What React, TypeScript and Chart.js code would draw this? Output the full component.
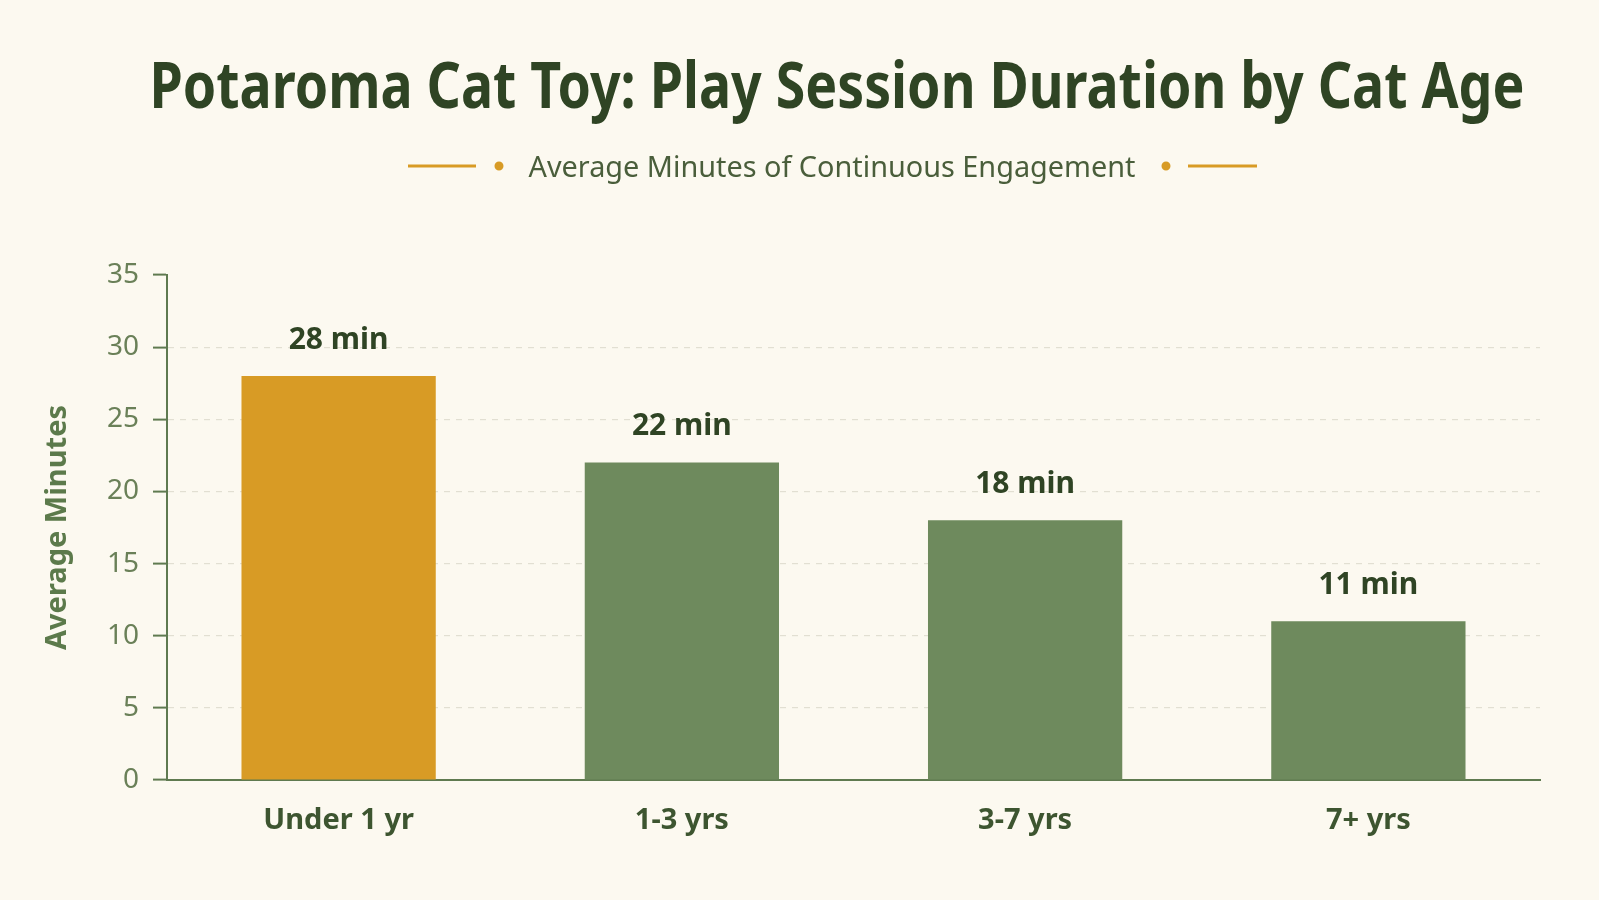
import React, { useEffect, useRef } from "react";
import { Chart, registerables } from "chart.js";

Chart.register(...registerables);

// Chart content
const TITLE = "Potaroma Cat Toy: Play Session Duration by Cat Age";
const SUBTITLE = "Average Minutes of Continuous Engagement";
const Y_AXIS_TITLE = "Average Minutes";

const ageGroups = ["Under 1 yr", "1-3 yrs", "3-7 yrs", "7+ yrs"];
const avgMinutes = [28, 22, 18, 11];
const valueLabels = ["28 min", "22 min", "18 min", "11 min"];

const Y_MIN = 0;
const Y_MAX = 35;
const Y_STEP = 5;

// Palette
const BG = "#fcf9f0";
const GOLD = "#d89b25";
const SAGE = "#6e8a5d";
const DARK_GREEN = "#2f4424";
const MID_GREEN = "#5c7a4b";
const AXIS_GREEN = "#5f7a50";
const TICK_TEXT = "#6a8058";
const GRID = "#e2dfd2";
const FONT = '"Noto Sans", "Open Sans", sans-serif';

const barColors = ageGroups.map((_, i) => (i === 0 ? GOLD : SAGE));

// Title, subtitle and its gold ornaments
const headerPlugin = {
  id: "header",
  afterDraw(chart: any) {
    const ctx = chart.ctx as CanvasRenderingContext2D;
    ctx.save();
    ctx.fillStyle = DARK_GREEN;
    ctx.textAlign = "center";
    ctx.textBaseline = "alphabetic";
    ctx.font = `bold 65px ${FONT}`;
    const tw = ctx.measureText(TITLE).width;
    const tsx = Math.min(1, 1375 / tw);
    ctx.translate(837, 108);
    ctx.scale(tsx, 1);
    ctx.fillText(TITLE, 0, 0);
    ctx.restore();

    ctx.save();
    ctx.fillStyle = "#4a5e3b";
    ctx.textAlign = "center";
    ctx.textBaseline = "alphabetic";
    ctx.font = `29px ${FONT}`;
    const sw = ctx.measureText(SUBTITLE).width;
    const ssx = Math.min(1, 607 / sw);
    ctx.translate(832, 177);
    ctx.scale(ssx, 1);
    ctx.fillText(SUBTITLE, 0, 0);
    ctx.restore();

    ctx.save();
    ctx.strokeStyle = GOLD;
    ctx.fillStyle = GOLD;
    ctx.lineWidth = 3;
    const y = 166;
    ctx.beginPath();
    ctx.moveTo(408, y);
    ctx.lineTo(476, y);
    ctx.moveTo(1188, y);
    ctx.lineTo(1257, y);
    ctx.stroke();
    ctx.beginPath();
    ctx.arc(499, y, 4.5, 0, Math.PI * 2);
    ctx.arc(1166, y, 4.5, 0, Math.PI * 2);
    ctx.fill();
    ctx.restore();
  },
};

// Value labels above each bar
const valueLabelPlugin = {
  id: "valueLabels",
  afterDatasetsDraw(chart: any) {
    const ctx = chart.ctx as CanvasRenderingContext2D;
    const meta = chart.getDatasetMeta(0);
    ctx.save();
    ctx.fillStyle = DARK_GREEN;
    ctx.font = `bold 30px ${FONT}`;
    ctx.textAlign = "center";
    ctx.textBaseline = "middle";
    meta.data.forEach((bar: any, i: number) => {
      ctx.fillText(valueLabels[i], bar.x, bar.y - 36);
    });
    ctx.restore();
  },
};

export default function App() {
  const canvasRef = useRef<HTMLCanvasElement | null>(null);

  useEffect(() => {
    document.body.style.margin = "0";
    document.body.style.background = BG;
    const canvas = canvasRef.current;
    if (!canvas) return;
    const chart = new Chart(canvas, {
      type: "bar",
      data: {
        labels: ageGroups,
        datasets: [
          {
            data: avgMinutes,
            backgroundColor: barColors,
            borderWidth: 0,
            barPercentage: 0.566,
            categoryPercentage: 1,
          },
        ],
      },
      options: {
        responsive: false,
        animation: false,
        devicePixelRatio: 1,
        layout: { padding: { top: 275, right: 59, bottom: 0, left: 40 } },
        plugins: {
          legend: { display: false },
          title: { display: false },
          tooltip: { enabled: false },
        },
        scales: {
          x: {
            afterFit(scale: any) {
              scale.height = 120;
            },
            grid: { display: false, drawTicks: false },
            border: { display: true, color: AXIS_GREEN, width: 2 },
            ticks: {
              color: "#3d5530",
              padding: 23,
              font: { family: FONT, size: 29, weight: "bold" },
            },
          },
          y: {
            min: Y_MIN,
            max: Y_MAX,
            afterFit(scale: any) {
              scale.width = 127;
            },
            ticks: {
              stepSize: Y_STEP,
              color: TICK_TEXT,
              padding: 14,
              font: { family: FONT, size: 28 },
            },
            grid: {
              // no dashed line along the top tick
              color: (c: any) =>
                c.tick && c.tick.value === Y_MAX ? "rgba(0,0,0,0)" : GRID,
              lineWidth: 1.2,
              drawTicks: true,
              tickLength: 14,
              tickColor: AXIS_GREEN,
              tickWidth: 2,
              tickBorderDash: [],
            } as any,
            border: { display: true, color: AXIS_GREEN, width: 2, dash: [6, 6] },
            title: {
              display: true,
              text: Y_AXIS_TITLE,
              color: MID_GREEN,
              padding: { top: 0, bottom: 0 },
              font: { family: FONT, size: 29, weight: "bold" },
            },
          },
        },
      },
      plugins: [headerPlugin, valueLabelPlugin],
    });
    return () => chart.destroy();
  }, []);

  return (
    <div style={{ width: 1599, height: 900, background: BG }}>
      <canvas ref={canvasRef} width={1599} height={900} style={{ display: "block" }} />
    </div>
  );
}
